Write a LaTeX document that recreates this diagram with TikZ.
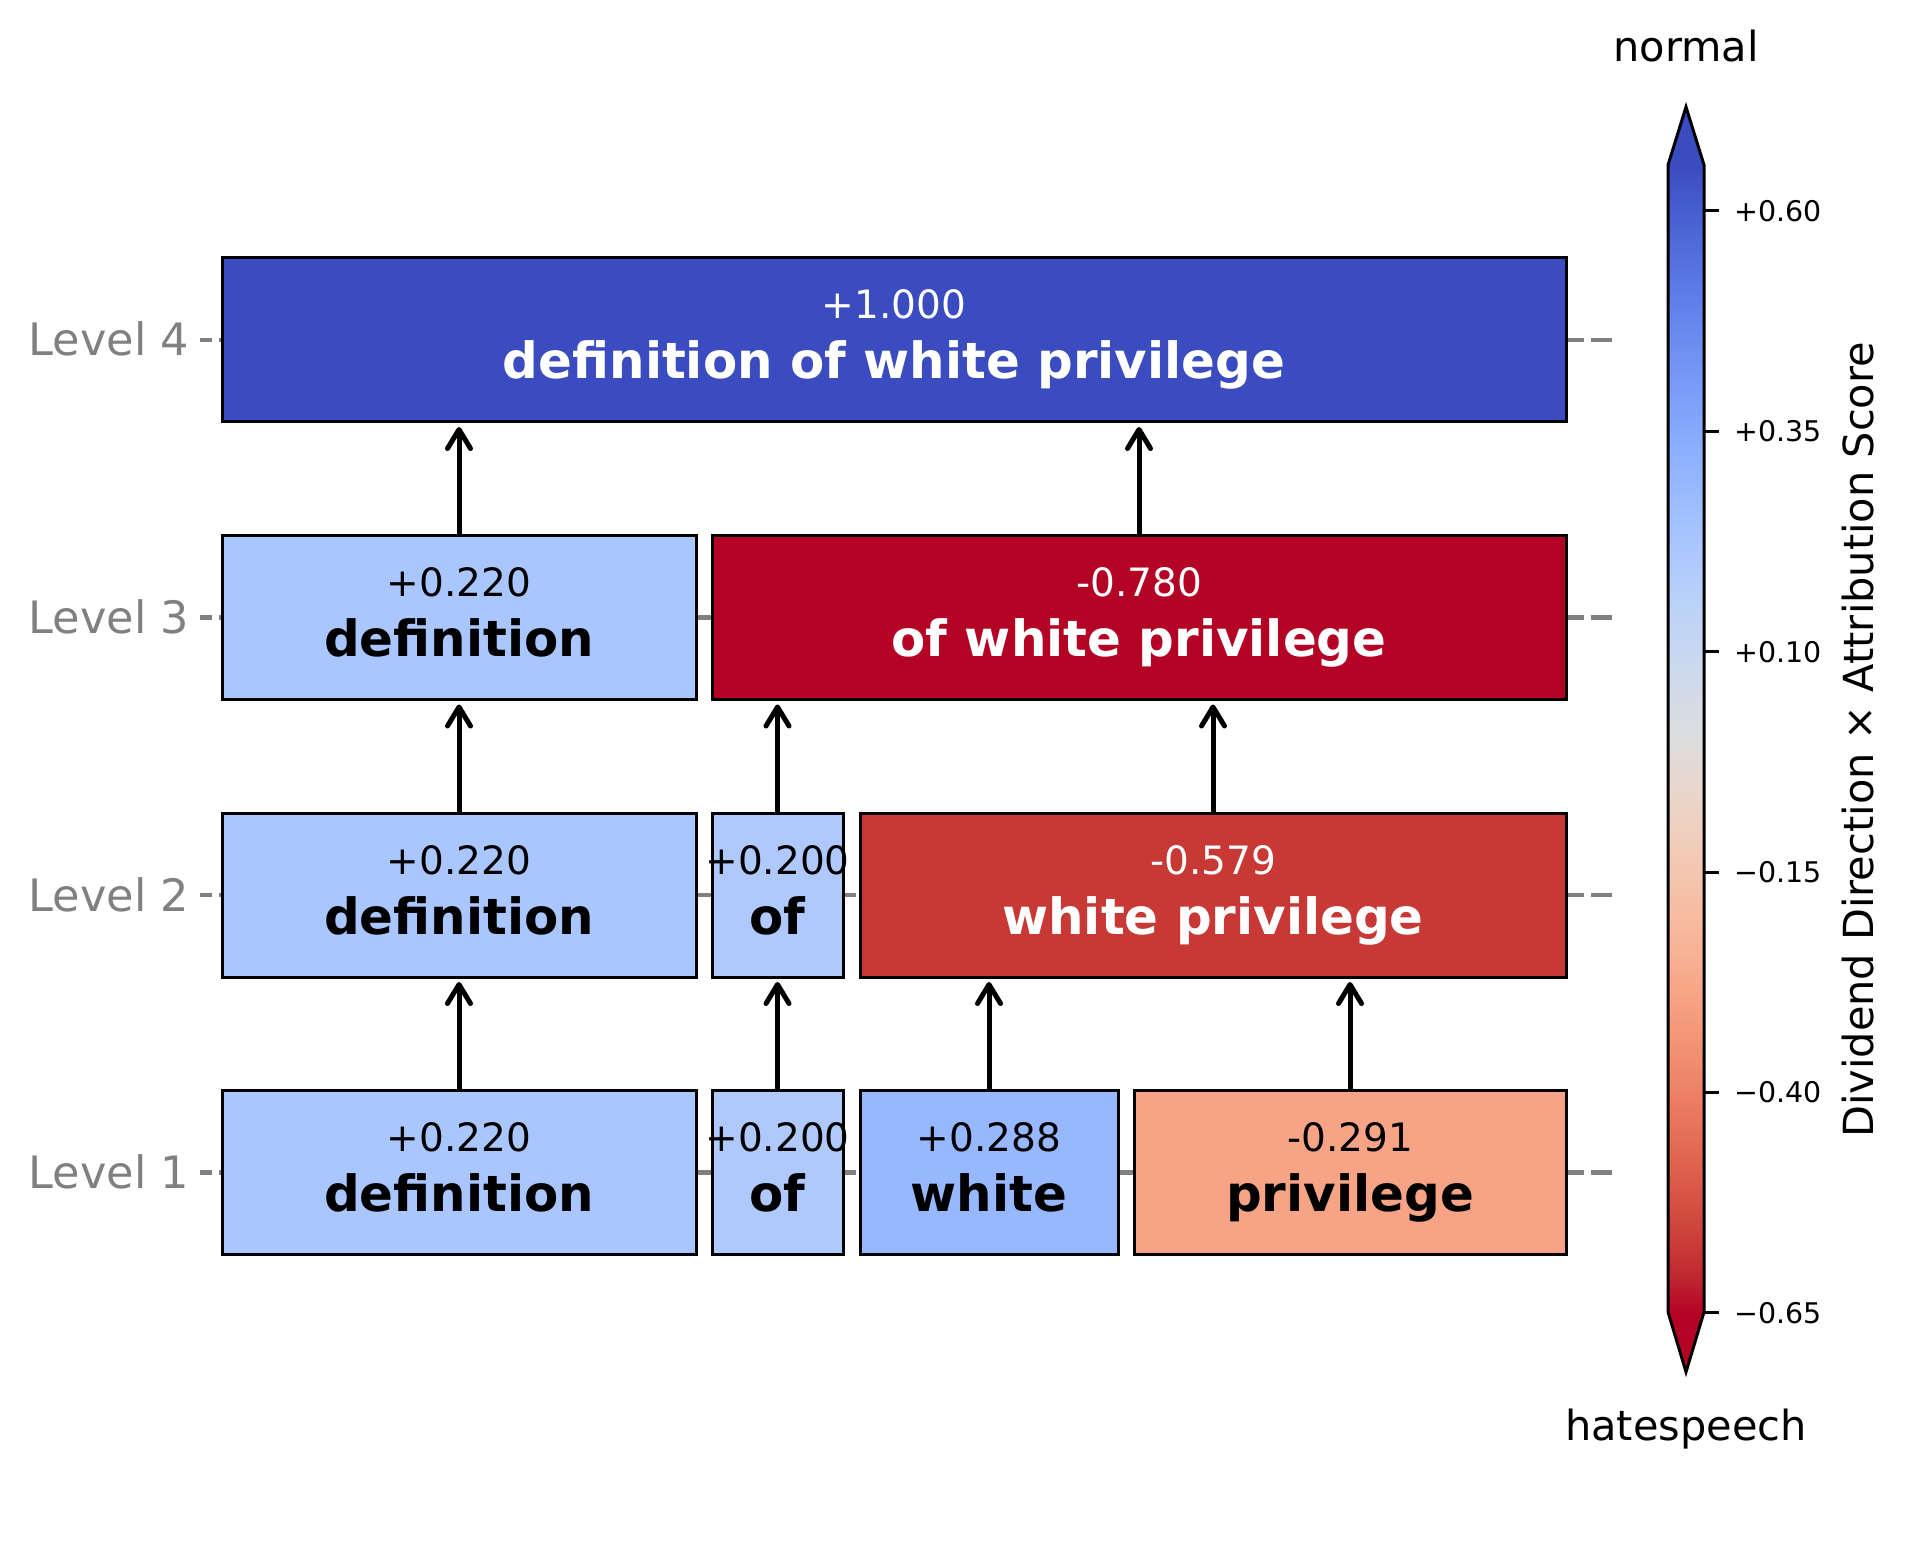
\documentclass[tikz,border=0pt]{standalone}
\usepackage{fontspec}
\setmainfont{DejaVu Sans}
\usetikzlibrary{arrows.meta}

% coolwarm stops, cw0 = blue end ... cw32 = red end
\definecolor{cw0}{RGB}{59,76,192}
\definecolor{cw1}{RGB}{68,90,204}
\definecolor{cw2}{RGB}{77,104,215}
\definecolor{cw3}{RGB}{87,117,225}
\definecolor{cw4}{RGB}{98,130,234}
\definecolor{cw5}{RGB}{108,142,241}
\definecolor{cw6}{RGB}{119,154,247}
\definecolor{cw7}{RGB}{130,165,251}
\definecolor{cw8}{RGB}{141,176,254}
\definecolor{cw9}{RGB}{152,185,255}
\definecolor{cw10}{RGB}{163,194,255}
\definecolor{cw11}{RGB}{174,201,253}
\definecolor{cw12}{RGB}{184,208,249}
\definecolor{cw13}{RGB}{194,213,244}
\definecolor{cw14}{RGB}{204,217,238}
\definecolor{cw15}{RGB}{213,219,230}
\definecolor{cw16}{RGB}{221,221,221}
\definecolor{cw17}{RGB}{229,216,209}
\definecolor{cw18}{RGB}{236,211,197}
\definecolor{cw19}{RGB}{241,204,184}
\definecolor{cw20}{RGB}{245,196,172}
\definecolor{cw21}{RGB}{247,187,160}
\definecolor{cw22}{RGB}{247,177,148}
\definecolor{cw23}{RGB}{247,166,135}
\definecolor{cw24}{RGB}{244,154,123}
\definecolor{cw25}{RGB}{241,141,111}
\definecolor{cw26}{RGB}{236,127,99}
\definecolor{cw27}{RGB}{229,112,88}
\definecolor{cw28}{RGB}{222,96,77}
\definecolor{cw29}{RGB}{213,80,66}
\definecolor{cw30}{RGB}{203,62,56}
\definecolor{cw31}{RGB}{192,40,47}
\definecolor{cw32}{RGB}{180,4,38}

% token fills
\definecolor{tokA}{RGB}{170,198,254}
\definecolor{tokB}{RGB}{175,201,253}
\definecolor{tokC}{RGB}{151,184,255}
\definecolor{tokD}{RGB}{246,164,133}
\definecolor{tokE}{RGB}{200,57,54}
\definecolor{axisgray}{RGB}{128,128,128}

% colour bar gradient: red at the bottom, blue at the top
\pgfdeclareverticalshading{cbarshade}{100bp}{%
color(0bp)=(cw32); color(25bp)=(cw32);
color(26.5625bp)=(cw31); color(28.125bp)=(cw30); color(29.6875bp)=(cw29);
color(31.25bp)=(cw28); color(32.8125bp)=(cw27); color(34.375bp)=(cw26);
color(35.9375bp)=(cw25); color(37.5bp)=(cw24); color(39.0625bp)=(cw23);
color(40.625bp)=(cw22); color(42.1875bp)=(cw21); color(43.75bp)=(cw20);
color(45.3125bp)=(cw19); color(46.875bp)=(cw18); color(48.4375bp)=(cw17);
color(50bp)=(cw16); color(51.5625bp)=(cw15); color(53.125bp)=(cw14);
color(54.6875bp)=(cw13); color(56.25bp)=(cw12); color(57.8125bp)=(cw11);
color(59.375bp)=(cw10); color(60.9375bp)=(cw9); color(62.5bp)=(cw8);
color(64.0625bp)=(cw7); color(65.625bp)=(cw6); color(67.1875bp)=(cw5);
color(68.75bp)=(cw4); color(70.3125bp)=(cw3); color(71.875bp)=(cw2);
color(73.4375bp)=(cw1); color(75bp)=(cw0); color(100bp)=(cw0)}

\tikzset{
  tokbox/.style={draw=black, line width=0.3mm, rectangle, inner sep=0pt,
    outer sep=0pt, minimum height=16.4mm},
  valtxt/.style={font=\fontsize{11.1}{13}\selectfont, anchor=base, inner sep=0pt},
  wordtxt/.style={font=\fontsize{14.2}{17}\selectfont\bfseries, anchor=base, inner sep=0pt},
  lvltxt/.style={font=\fontsize{12.7}{15}\selectfont, text=axisgray,
    anchor=base east, inner sep=0pt},
  guide/.style={draw=axisgray, line width=0.45mm, dash pattern=on 2.1mm off 0.7mm},
  uparrow/.style={draw=black, line width=0.5mm,
    -{Straight Barb[length=1.9mm, width=2.3mm, round]}},
  ticktxt/.style={font=\fontsize{8.1}{10}\selectfont, anchor=base west, inner sep=0pt},
  cbartxt/.style={font=\fontsize{11.8}{14}\selectfont, anchor=base, inner sep=0pt},
}

% #1 name, #2 centre x, #3 centre y, #4 width, #5 fill, #6 text colour, #7 score, #8 words
\newcommand\placetoken[8]{%
  \node[tokbox, fill=#5, minimum width=#4*0.1mm] (#1) at (#2,#3) {};
  \node[valtxt, text=#6] (#1-v) at (#2,#3-21) {#7};
  \node[wordtxt, text=#6] (#1-w) at (#2,#3+39) {#8};
}

\begin{document}
\begin{tikzpicture}[x=0.1mm, y=-0.1mm]
\useasboundingbox (0,0) rectangle (1912,1561);

% level guides (dashes start from the right end) and labels
\foreach \yc/\lv in {340/4, 617.5/3, 895/2, 1172.5/1}{
  \draw[guide] (1612,\yc) -- (200,\yc);
  \node[lvltxt] (lvl\lv) at (190,\yc+16) {Level \lv};
}

% level 4
\placetoken{t4}{894}{340}{1344}{cw0}{white}{+1.000}{definition of white privilege}
% level 3
\placetoken{t3def}{459}{617.5}{474}{tokA}{black}{+0.220}{definition}
\placetoken{t3owp}{1139}{617.5}{854}{cw32}{white}{-0.780}{of white privilege}
% level 2
\placetoken{t2def}{459}{895}{474}{tokA}{black}{+0.220}{definition}
\placetoken{t2of}{777.5}{895}{131}{tokB}{black}{+0.200}{of}
\placetoken{t2wp}{1213}{895}{706}{tokE}{white}{-0.579}{white privilege}
% level 1
\placetoken{t1def}{459}{1172.5}{474}{tokA}{black}{+0.220}{definition}
\placetoken{t1of}{777.5}{1172.5}{131}{tokB}{black}{+0.200}{of}
\placetoken{t1white}{989}{1172.5}{258}{tokC}{black}{+0.288}{white}
\placetoken{t1priv}{1350}{1172.5}{432}{tokD}{black}{-0.291}{privilege}

% composition arrows, child -> parent
\foreach \c/\p in {t1def/t2def, t1of/t2of, t1white/t2wp, t1priv/t2wp,
                   t2def/t3def, t2of/t3owp, t2wp/t3owp,
                   t3def/t4, t3owp/t4}{
  \draw[uparrow] (\c.north) -- ([yshift=-0.5mm]\c.north |- \p.south);
}

% colour bar
\shade[shading=cbarshade] (1668,165) rectangle (1704,1312);
\fill[cw0] (1668,166) -- (1686,107) -- (1704,166) -- cycle;
\fill[cw32] (1668,1311) -- (1686,1372) -- (1704,1311) -- cycle;
\draw[line width=0.3mm] (1668,165) -- (1686,107) -- (1704,165) -- (1704,1312)
  -- (1686,1372) -- (1668,1312) -- cycle;

\foreach \i/\lab in {0/+0.60, 1/+0.35, 2/+0.10, 3/−0.15, 4/−0.40, 5/−0.65}{
  \pgfmathsetmacro\ty{211+220.36*\i}
  \draw[line width=0.3mm] (1704,\ty) -- (1719,\ty);
  \node[ticktxt] (tick\i) at (1734,\ty+10.5) {\lab};
}

\node[cbartxt] (endtop) at (1686,62) {normal};
\node[cbartxt] (endbot) at (1686,1440) {hatespeech};
\node[cbartxt, rotate=90] (cbarlabel) at (1873,740) {Dividend Direction × Attribution Score};
\end{tikzpicture}
\end{document}
